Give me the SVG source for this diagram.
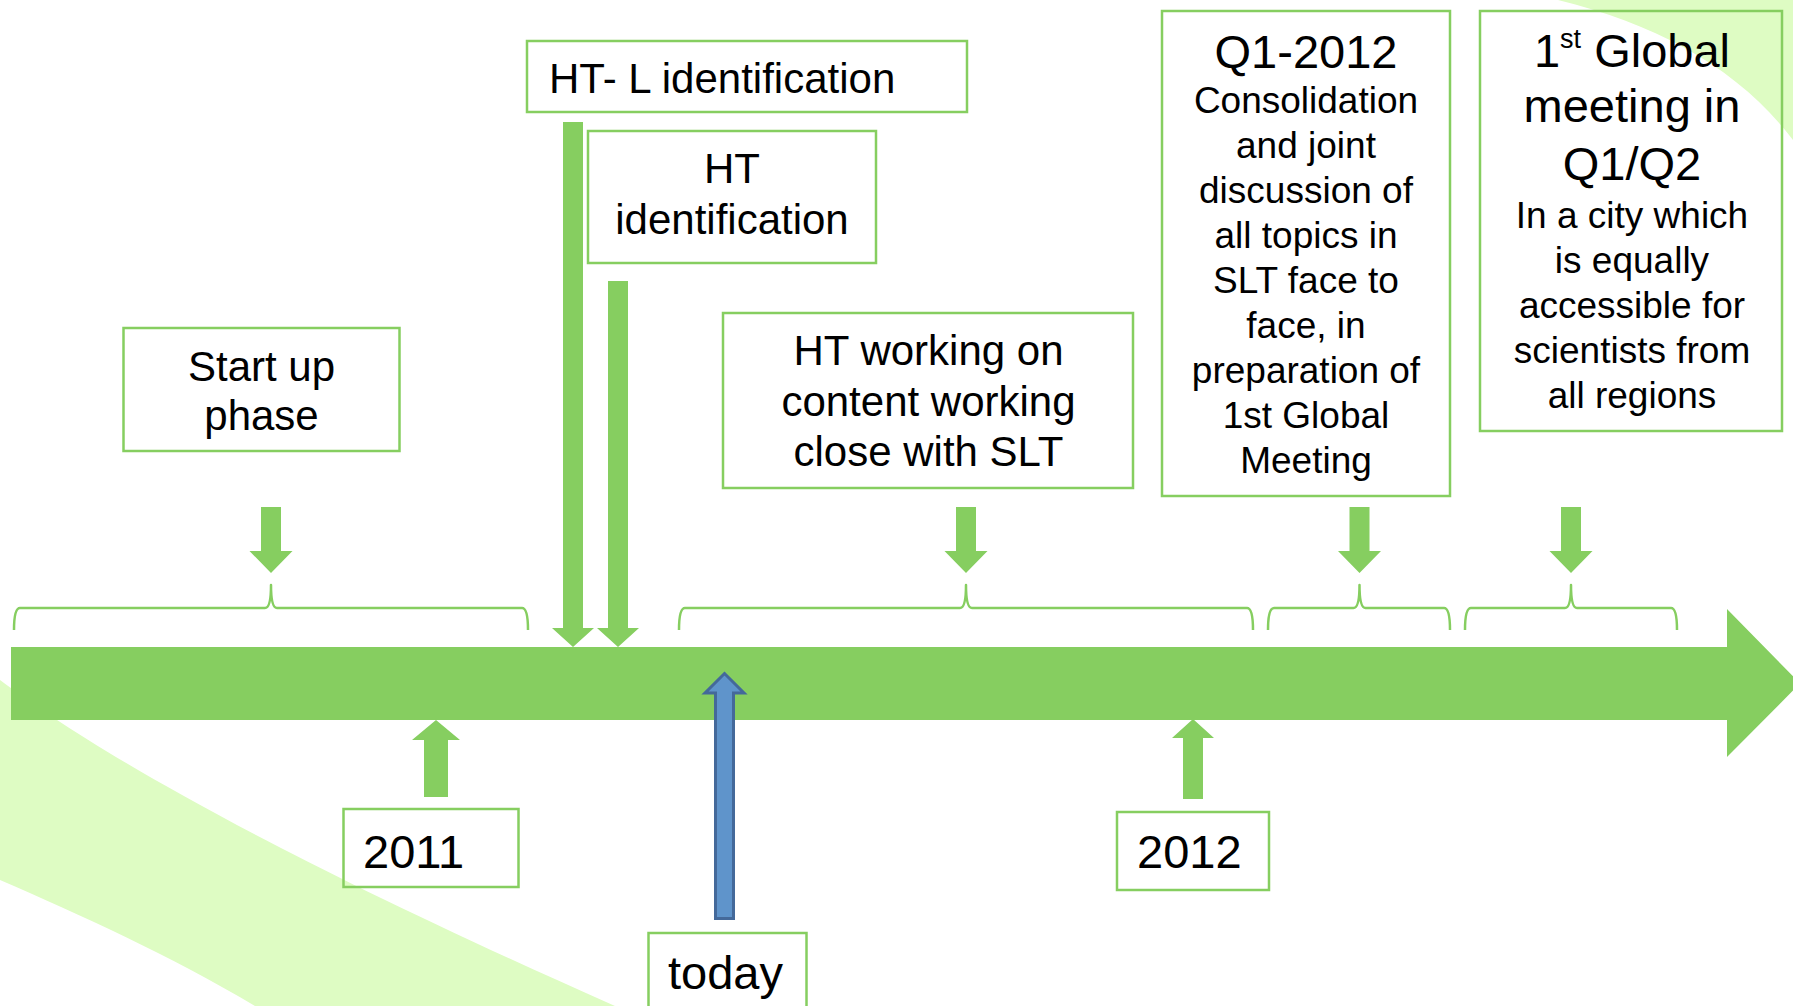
<svg xmlns="http://www.w3.org/2000/svg" width="1793" height="1006" viewBox="0 0 1793 1006">
<defs>
<style>
.bg{fill:#DEFCC3;stroke:none}
.box{fill:none;stroke:#86CE60;stroke-width:2.5}
.g{fill:#86CE60;stroke:none}
.brace{fill:none;stroke:#86CE60;stroke-width:2.5;stroke-linecap:butt;stroke-linejoin:round}
.blue{fill:#5F94CB;stroke:#44699A;stroke-width:3;stroke-linejoin:miter}
text{font-family:"Liberation Sans",Arial,sans-serif;fill:#000}
.t42{font-size:42px}
.t47{font-size:47px}
.t37{font-size:37px}
.c{text-anchor:middle}
</style>
</defs>
<rect width="1793" height="1006" fill="#ffffff"/>
<g id="background">
<path class="bg" d="M0,680 C80,740 240,840 615,1006 L255,1006 C170,955 80,915 0,880 Z"/>
<path class="bg" d="M1558,0 C1660,25 1740,70 1793,140 L1793,0 Z"/>
</g>
<g id="connectors">
<path id="timeline" class="g" d="M11,647 L1727,647 L1727,609 L1800,683.5 L1727,757 L1727,720 L11,720 Z"/>
<path class="brace" d="M14,630 Q14,608 20,608 L265,608 Q271,608 271,585 Q271,608 277,608 L522,608 Q528,608 528,630"/>
<path class="brace" d="M679,630 Q679,608 685,608 L960,608 Q966,608 966,585 Q966,608 972,608 L1247,608 Q1253,608 1253,630"/>
<path class="brace" d="M1268,630 Q1268,608 1274,608 L1353.5,608 Q1359.5,608 1359.5,585 Q1359.5,608 1365.5,608 L1444,608 Q1450,608 1450,630"/>
<path class="brace" d="M1465,630 Q1465,608 1471,608 L1565,608 Q1571,608 1571,585 Q1571,608 1577,608 L1671,608 Q1677,608 1677,630"/>
<path class="g" d="M261,507 L281,507 L281,551 L292.5,551 L271,573 L249.5,551 L261,551 Z"/>
<path class="g" d="M956,507 L976,507 L976,551 L987.5,551 L966,573 L944.5,551 L956,551 Z"/>
<path class="g" d="M1349.5,507 L1369.5,507 L1369.5,551 L1381,551 L1359.5,573 L1338,551 L1349.5,551 Z"/>
<path class="g" d="M1561,507 L1581,507 L1581,551 L1592.5,551 L1571,573 L1549.5,551 L1561,551 Z"/>
<path class="g" d="M563,122 L583,122 L583,628 L594,628 L573,647 L552,628 L563,628 Z"/>
<path class="g" d="M608,281 L628,281 L628,628 L639,628 L618,647 L597,628 L608,628 Z"/>
<path class="g" d="M424,797 L448,797 L448,740 L460,740 L436,720 L412,740 L424,740 Z"/>
<path class="g" d="M1183,799 L1203,799 L1203,738 L1214,738 L1193,719 L1172,738 L1183,738 Z"/>
<path class="blue" d="M715.5,918.5 L733.5,918.5 L733.5,693 L744,693 L724.5,673.5 L705,693 L715.5,693 Z"/>
</g>
<g id="node-htl">
<rect class="box" x="527" y="41" width="440" height="71"/>
<text class="t42" x="549" y="93">HT- L identification</text>
</g>
<g id="node-ht">
<rect class="box" x="588" y="131" width="288" height="132"/>
<text class="t42 c" x="732" y="183">HT</text>
<text class="t42 c" x="732" y="234">identification</text>
</g>
<g id="node-startup">
<rect class="box" x="123.5" y="328" width="276" height="123"/>
<text class="t42 c" x="261.5" y="381">Start up</text>
<text class="t42 c" x="261.5" y="430">phase</text>
</g>
<g id="node-htworking">
<rect class="box" x="723" y="313" width="410" height="175"/>
<text class="t42 c" x="928.5" y="365">HT working on</text>
<text class="t42 c" x="928.5" y="416">content working</text>
<text class="t42 c" x="928.5" y="466">close with SLT</text>
</g>
<g id="node-q1">
<rect class="box" x="1162" y="11" width="288" height="485"/>
<text class="t47 c" x="1306" y="68">Q1-2012</text>
<text class="t37 c" x="1306" y="113">Consolidation</text>
<text class="t37 c" x="1306" y="158">and joint</text>
<text class="t37 c" x="1306" y="203">discussion of</text>
<text class="t37 c" x="1306" y="248">all topics in</text>
<text class="t37 c" x="1306" y="293">SLT face to</text>
<text class="t37 c" x="1306" y="338">face, in</text>
<text class="t37 c" x="1306" y="383">preparation of</text>
<text class="t37 c" x="1306" y="428">1st Global</text>
<text class="t37 c" x="1306" y="473">Meeting</text>
</g>
<g id="node-global">
<rect class="box" x="1480" y="11" width="302" height="420"/>
<text class="t47 c" x="1632" y="67">1<tspan font-size="27" dy="-19">st</tspan><tspan dy="19"> Global</tspan></text>
<text class="t47 c" x="1632" y="122">meeting in</text>
<text class="t47 c" x="1632" y="180">Q1/Q2</text>
<text class="t37 c" x="1632" y="228">In a city which</text>
<text class="t37 c" x="1632" y="273">is equally</text>
<text class="t37 c" x="1632" y="318">accessible for</text>
<text class="t37 c" x="1632" y="363">scientists from</text>
<text class="t37 c" x="1632" y="408">all regions</text>
</g>
<g id="node-2011">
<rect class="box" x="343.5" y="809" width="175" height="78"/>
<text class="t47" x="363" y="868">2011</text>
</g>
<g id="node-2012">
<rect class="box" x="1117" y="812" width="152" height="78"/>
<text class="t47" x="1137" y="868">2012</text>
</g>
<g id="node-today">
<rect class="box" x="648.5" y="933" width="158" height="80"/>
<text class="t47" x="668" y="989">today</text>
</g>
</svg>
